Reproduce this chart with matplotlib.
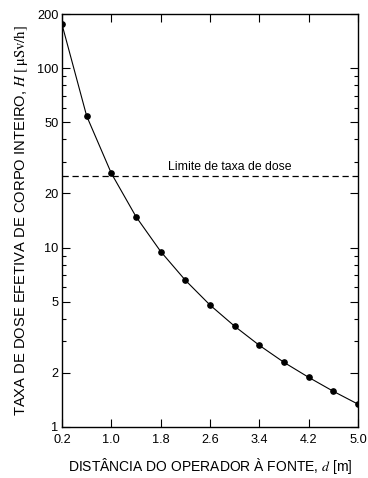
import matplotlib
matplotlib.use('Agg')
import matplotlib.pyplot as plt
from matplotlib.ticker import FixedLocator, NullFormatter, FixedFormatter

plt.rcParams['font.family'] = ['Liberation Sans', 'DejaVu Sans']
plt.rcParams['mathtext.fontset'] = 'stix'

# distancia (m) e taxa de dose (uSv/h)
d = [0.2, 0.6, 1.0, 1.4, 1.8, 2.2, 2.6, 3.0, 3.4, 3.8, 4.2, 4.6, 5.0]
H = [175, 54, 25.9, 14.85, 9.5, 6.57, 4.78, 3.64, 2.85, 2.29, 1.89, 1.58, 1.34]
limite = 25

xticks = [0.2, 1.0, 1.8, 2.6, 3.4, 4.2, 5.0]
xlabels = ['0.2', '1.0', '1.8', '2.6', '3.4', '4.2', '5.0']
yticks = [1, 2, 5, 10, 20, 50, 100, 200]
yminor = [3, 4, 6, 7, 8, 9, 30, 40, 60, 70, 80, 90]

fig = plt.figure(figsize=(3.68, 4.78), dpi=100)
ax = fig.add_axes([0.1685, 0.1067, 0.8045, 0.864])

ax.plot(d, H, c='k', lw=0.8)
ax.plot(d, H, 'o', c='k', ms=3.8)
ax.axhline(limite, c='k', lw=0.9, ls=(0, (5, 3)))
ax.text(1.92, 27.2, 'Limite de taxa de dose', fontsize=8.8, ha='left', va='baseline')

ax.set_yscale('log')
ax.set_xlim(0.2, 5.0)
ax.set_ylim(1, 200)
ax.xaxis.set_major_locator(FixedLocator(xticks))
ax.xaxis.set_major_formatter(FixedFormatter(xlabels))
ax.yaxis.set_major_locator(FixedLocator(yticks))
ax.yaxis.set_major_formatter(FixedFormatter([str(v) for v in yticks]))
ax.yaxis.set_minor_locator(FixedLocator(yminor))
ax.yaxis.set_minor_formatter(NullFormatter())
ax.xaxis.set_minor_locator(FixedLocator([]))

ax.tick_params(which='both', direction='in', top=True, right=True,
               labelsize=9.2, width=0.8, colors='k')
ax.tick_params(which='major', length=6)
ax.tick_params(which='minor', length=3)
ax.tick_params(axis='x', pad=5)
ax.tick_params(axis='y', pad=2.5)
for s in ax.spines.values():
    s.set_linewidth(1.0)

ax.set_xlabel(r'DISTÂNCIA DO OPERADOR À FONTE, $d$ [m]', fontsize=10, labelpad=7)
ax.set_ylabel(r'TAXA DE DOSE EFETIVA DE CORPO INTEIRO, $H\ [\,\mathrm{\mu Sv/h}]$',
              fontsize=10.6, labelpad=5)

fig.savefig('out.png', dpi=100)
